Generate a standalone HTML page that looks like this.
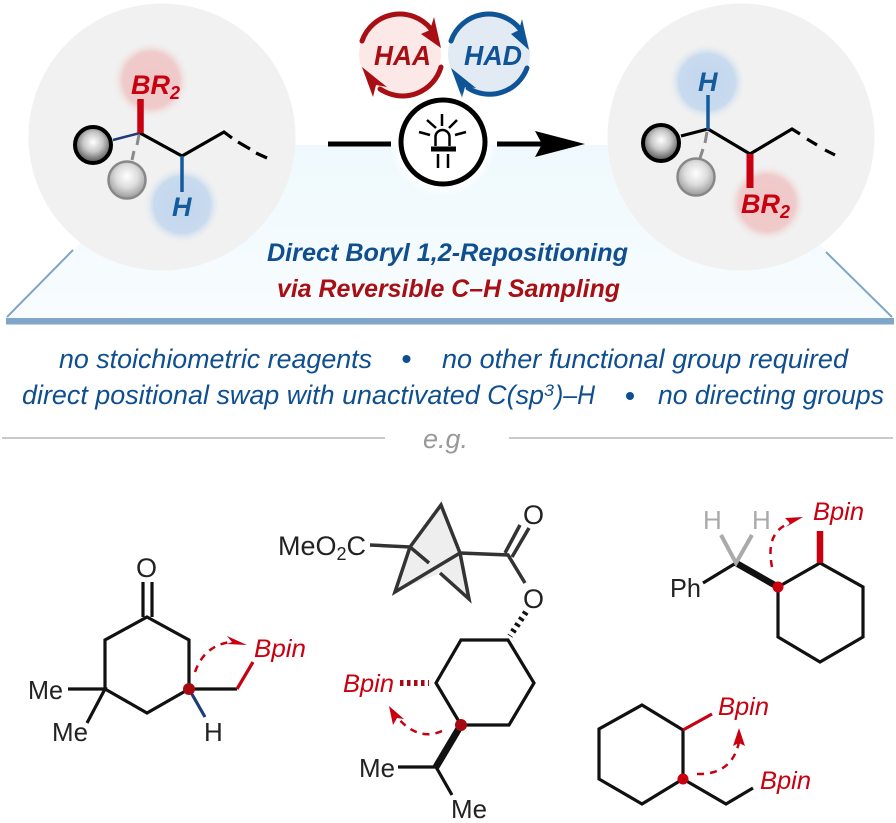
<!DOCTYPE html>
<html><head><meta charset="utf-8"><style>
html,body{margin:0;padding:0;background:#fff}svg{display:block;filter:blur(0.35px)}
text{font-family:"Liberation Sans",sans-serif}
</style></head><body>
<svg xmlns="http://www.w3.org/2000/svg" width="896" height="823" viewBox="0 0 896 823">
<defs>
<linearGradient id="plat" x1="0" y1="0" x2="0" y2="1"><stop offset="0" stop-color="#eff9fd"/><stop offset="1" stop-color="#f8fcfe"/></linearGradient>
<radialGradient id="b1" cx="0.5" cy="0.42" r="0.6"><stop offset="0" stop-color="#fff"/><stop offset="0.45" stop-color="#c8c8c8"/><stop offset="1" stop-color="#444"/></radialGradient>
<radialGradient id="b2" cx="0.5" cy="0.4" r="0.6"><stop offset="0" stop-color="#fff"/><stop offset="0.5" stop-color="#ddd"/><stop offset="1" stop-color="#999"/></radialGradient>
<radialGradient id="gr"><stop offset="0" stop-color="#f0c6c6"/><stop offset="0.72" stop-color="#f0cbcb"/><stop offset="1" stop-color="#f1f1f1" stop-opacity="0"/></radialGradient>
<radialGradient id="gb"><stop offset="0" stop-color="#c2d6ec"/><stop offset="0.72" stop-color="#c8daee"/><stop offset="1" stop-color="#f1f1f1" stop-opacity="0"/></radialGradient>
<radialGradient id="gw"><stop offset="0.8" stop-color="#fff"/><stop offset="1" stop-color="#fff" stop-opacity="0"/></radialGradient>
</defs>

<!-- platform -->
<polygon points="6,318 179,145 720,145 894,318" fill="url(#plat)"/>
<path d="M73 250 L7 317" stroke="#7fa5c9" stroke-width="2" fill="none"/>
<path d="M826 252 L892 317" stroke="#7fa5c9" stroke-width="2" fill="none"/>
<rect x="6" y="318" width="888" height="6.5" fill="#7fa5c9"/>

<!-- spheres -->
<circle cx="162" cy="137" r="133.5" fill="#f1f1f1"/>
<circle cx="741" cy="137" r="133.5" fill="#f1f1f1"/>
<circle cx="151" cy="80" r="39" fill="url(#gr)"/>
<circle cx="182" cy="205" r="39" fill="url(#gb)"/>
<circle cx="707" cy="82" r="39" fill="url(#gb)"/>
<circle cx="767" cy="203" r="39" fill="url(#gr)"/>

<!-- left molecule -->
<g fill="none" stroke-linecap="butt">
<path d="M113 140 L140 133" stroke="#1f3b78" stroke-width="2.5"/>
<path d="M139 135 L137 145 M134 151 L132 160" stroke="#8a8a8a" stroke-width="3"/>
<path d="M140 133 L182 156 L224 132 L232 138" stroke="#000" stroke-width="3.2"/>
<path d="M238 142 L250 149 M256 153 L267 158" stroke="#000" stroke-width="3.2"/>
<path d="M140.500 99 V133" stroke="#c8000f" stroke-width="6.500"/>
<path d="M182 156 V192" stroke="#155a9c" stroke-width="3.500"/>
</g>
<circle cx="93" cy="145" r="18" fill="url(#b1)" stroke="#000" stroke-width="4"/>
<circle cx="127" cy="180" r="18.500" fill="url(#b2)" stroke="#888" stroke-width="2.500"/>
<text x="131" y="94" font-size="27" font-weight="700" font-style="italic" fill="#c8000f">BR<tspan font-size="18" dy="5">2</tspan></text>
<text x="172" y="216" font-size="27" font-weight="700" font-style="italic" fill="#155a9c">H</text>

<!-- right molecule -->
<g fill="none">
<path d="M681 136 L708 129" stroke="#000" stroke-width="3.200"/>
<path d="M707 132 L705 143 M703 149 L700 158" stroke="#8a8a8a" stroke-width="3"/>
<path d="M708 129 L750 154 L792 129 L800 134" stroke="#000" stroke-width="3.200"/>
<path d="M807 139 L817 145 M825 150 L835 155" stroke="#000" stroke-width="3.200"/>
<path d="M708 95 V130" stroke="#155a9c" stroke-width="3.500"/>
<path d="M750 154 V188" stroke="#c8000f" stroke-width="7"/>
</g>
<circle cx="661" cy="143" r="18" fill="url(#b1)" stroke="#000" stroke-width="4"/>
<circle cx="696" cy="177" r="18.500" fill="url(#b2)" stroke="#888" stroke-width="2.500"/>
<text x="741" y="213" font-size="27" font-weight="700" font-style="italic" fill="#c8000f">BR<tspan font-size="18" dy="5">2</tspan></text>
<text x="698" y="91" font-size="27" font-weight="700" font-style="italic" fill="#155a9c">H</text>

<!-- HAA / HAD -->
<circle cx="400" cy="54" r="41" fill="#fce8e6"/>
<circle cx="489" cy="54" r="41" fill="#e2eaf3"/>
<g fill="none" stroke-width="5" stroke-linecap="round">
<path d="M362 41 A40 40 0 0 1 431 29" stroke="#a80f15"/>
<path d="M441 67 A40 40 0 0 1 380 89" stroke="#a80f15"/>
<path d="M451 41 A40 40 0 0 1 520 29" stroke="#0f5496"/>
<path d="M527 68 A40 40 0 0 1 468 88" stroke="#0f5496"/>
</g>
<polygon points="441,48 434,17 430,30 421,34" fill="#a80f15"/>
<polygon points="362,67 373,97 376,85 387,87" fill="#a80f15"/>
<polygon points="529,50 522,19 519,30 511,34" fill="#0f5496"/>
<polygon points="451,68 462,98 465,87 476,88" fill="#0f5496"/>
<text x="374" y="65" font-size="28" font-weight="700" font-style="italic" fill="#a80f15" textLength="57" lengthAdjust="spacingAndGlyphs">HAA</text>
<text x="464" y="65" font-size="28" font-weight="700" font-style="italic" fill="#0f5496" textLength="58" lengthAdjust="spacingAndGlyphs">HAD</text>

<!-- LED and arrow -->
<circle cx="443" cy="143" r="54" fill="url(#gw)"/>
<circle cx="443" cy="142" r="42" fill="#fff" stroke="#000" stroke-width="5"/>
<rect x="328" y="141.500" width="63" height="5" fill="#000"/>
<rect x="497" y="141.500" width="50" height="5" fill="#000"/>
<polygon points="585,144 535,131 542,144 535,157" fill="#000"/>
<g fill="none" stroke="#000" stroke-width="2.500">
<path d="M435.500 146 V137 A7 7 0 0 1 449.500 137 V146"/>
<path d="M442 114 V126 M427 120 L436 128 M457 120 L449 128 M419 132 L430 135 M466 132 L455 135"/>
<path d="M438 154 V168 M448 154 V168"/>
</g>
<rect x="431" y="146.500" width="25" height="5" fill="#000"/>

<!-- title -->
<text x="267" y="261" font-size="25" font-weight="700" font-style="italic" fill="#0f4f8f" textLength="361" lengthAdjust="spacingAndGlyphs">Direct Boryl 1,2-Repositioning</text>
<text x="277" y="297" font-size="25" font-weight="700" font-style="italic" fill="#a80f15" textLength="343" lengthAdjust="spacingAndGlyphs">via Reversible C–H Sampling</text>

<!-- bullets -->
<g font-size="27" font-style="italic" fill="#0f4f8f">
<text x="59" y="368" textLength="313" lengthAdjust="spacingAndGlyphs">no stoichiometric reagents</text>
<text x="442" y="368" textLength="406" lengthAdjust="spacingAndGlyphs">no other functional group required</text>
<text x="22" y="404" textLength="522" lengthAdjust="spacingAndGlyphs">direct positional swap with unactivated C(sp</text>
<text x="544" y="396" font-size="17" textLength="10" lengthAdjust="spacingAndGlyphs">3</text>
<text x="555" y="404" textLength="40" lengthAdjust="spacingAndGlyphs">)–H</text>
<text x="658" y="404" textLength="226" lengthAdjust="spacingAndGlyphs">no directing groups</text>
</g>
<circle cx="406.500" cy="359" r="4" fill="#0f4f8f"/>
<circle cx="630" cy="396" r="4" fill="#0f4f8f"/>
<path d="M2 438 H385 M509 438 H893" stroke="#c9c9c9" stroke-width="2"/>
<text x="423" y="448" font-size="27" font-style="italic" fill="#999" textLength="45" lengthAdjust="spacingAndGlyphs">e.g.</text>

<!-- molecule 1 -->
<g fill="none" stroke="#111" stroke-width="3.200" stroke-linejoin="miter">
<path d="M147 617 L189 640 V689 L147 713 L105 689 V640 Z"/>
<path d="M143 582 V617 M152 582 V617"/>
<path d="M68 689 H105 L87 723"/>
<path d="M189 689 H237"/>
<path d="M189 689 L205 717" stroke="#1f3b78"/>
<path d="M237 689 L253 662" stroke="#c8000f"/>
</g>
<circle cx="189" cy="689" r="6" fill="#a50a10"/>
<path d="M195 672 Q204 646 230 642" fill="none" stroke="#c8000f" stroke-width="2.500" stroke-dasharray="7 6"/>
<polygon points="247,645 227,636 232,642 227,644" fill="#c8000f"/>
<g font-size="26" fill="#222">
<text x="136" y="577" font-size="27">O</text>
<text x="28" y="699" textLength="35" lengthAdjust="spacingAndGlyphs">Me</text>
<text x="52" y="741" textLength="36" lengthAdjust="spacingAndGlyphs">Me</text>
<text x="204" y="741">H</text>
</g>
<text x="254" y="657" font-size="25" font-style="italic" fill="#c8000f" textLength="52" lengthAdjust="spacingAndGlyphs">Bpin</text>

<!-- molecule 2 -->
<polygon points="410,547 441,505 460,553 469,599 440,573 395,592" fill="#eeeeee"/>
<g fill="none" stroke="#333" stroke-width="3.500">
<path d="M370 545 L410 547 L441 505 L460 553 L395 592 L410 547"/>
<path d="M410 547 L429 563 M440 573 L469 599 L460 553"/>
<path d="M460 553 L508 555 L525 583"/>
<path d="M505 553 L520 525 M512 557 L529 528"/>
</g>
<g fill="none" stroke="#111" stroke-width="3.200">
<path d="M508 640 L534 683 L509 725 H461 L436 683 L461 640 Z"/>
<path d="M398 767 H436 L452 795"/>
<path d="M461 725 L436 767" stroke-width="7"/>
<path d="M526 612 L510 636" stroke-width="6" stroke-dasharray="3 4"/>
<path d="M400 683 H429" stroke="#a50a10" stroke-width="6" stroke-dasharray="3.500 3.500"/>
</g>
<circle cx="461" cy="725" r="6" fill="#a50a10"/>
<path d="M442 731 Q418 742 396 716" fill="none" stroke="#c8000f" stroke-width="2.500" stroke-dasharray="7 6"/>
<polygon points="389,706 393,725 397,718 404,719" fill="#c8000f"/>
<g font-size="26" fill="#222">
<text x="278" y="555" font-size="27">MeO<tspan font-size="18" dy="5">2</tspan><tspan dy="-5">C</tspan></text>
<text x="523" y="524" font-size="27">O</text>
<text x="523" y="608" font-size="27">O</text>
<text x="359" y="777" textLength="36" lengthAdjust="spacingAndGlyphs">Me</text>
<text x="451" y="818" textLength="36" lengthAdjust="spacingAndGlyphs">Me</text>
</g>
<text x="343" y="692" font-size="25" font-style="italic" fill="#c8000f" textLength="51" lengthAdjust="spacingAndGlyphs">Bpin</text>

<!-- molecule 3 -->
<g fill="none" stroke="#111" stroke-width="3.200">
<path d="M778 587 L820 563 L863 587 V637 L820 662 L778 637 Z"/>
<path d="M703 583 L736 563"/>
<path d="M736 563 L778 587" stroke-width="6.500"/>
<path d="M721 535 L736 563 L752 535" stroke="#aaa" stroke-width="4"/>
<path d="M820 531 V563" stroke="#c8000f" stroke-width="6.500"/>
</g>
<circle cx="778" cy="587" r="5.500" fill="#c8000f"/>
<path d="M772 567 Q765 532 790 523" fill="none" stroke="#c8000f" stroke-width="2.500" stroke-dasharray="7 6"/>
<polygon points="803,517 785,518 790,523 786,527" fill="#c8000f"/>
<g font-size="26">
<text x="703" y="529" fill="#aaa">H</text>
<text x="752" y="529" fill="#aaa">H</text>
<text x="670" y="597" fill="#222" textLength="31" lengthAdjust="spacingAndGlyphs">Ph</text>
</g>
<text x="813" y="520" font-size="25" font-style="italic" fill="#c8000f" textLength="51" lengthAdjust="spacingAndGlyphs">Bpin</text>

<!-- molecule 4 -->
<g fill="none" stroke="#111" stroke-width="3.200">
<path d="M642 705 L683 730 V779 L642 804 L599 779 V729 Z"/>
<path d="M683 779 L726 804 L753 788"/>
<path d="M683 730 L712 714" stroke="#c8000f"/>
</g>
<circle cx="683" cy="779" r="5.500" fill="#c8000f"/>
<path d="M697 774 Q732 775 739 742" fill="none" stroke="#c8000f" stroke-width="2.500" stroke-dasharray="7 6"/>
<polygon points="739,728 733,746 739,743 745,746" fill="#c8000f"/>
<text x="718" y="715" font-size="25" font-style="italic" fill="#c8000f" textLength="51" lengthAdjust="spacingAndGlyphs">Bpin</text>
<text x="760" y="789" font-size="25" font-style="italic" fill="#c8000f" textLength="51" lengthAdjust="spacingAndGlyphs">Bpin</text>
</svg>
</body></html>
